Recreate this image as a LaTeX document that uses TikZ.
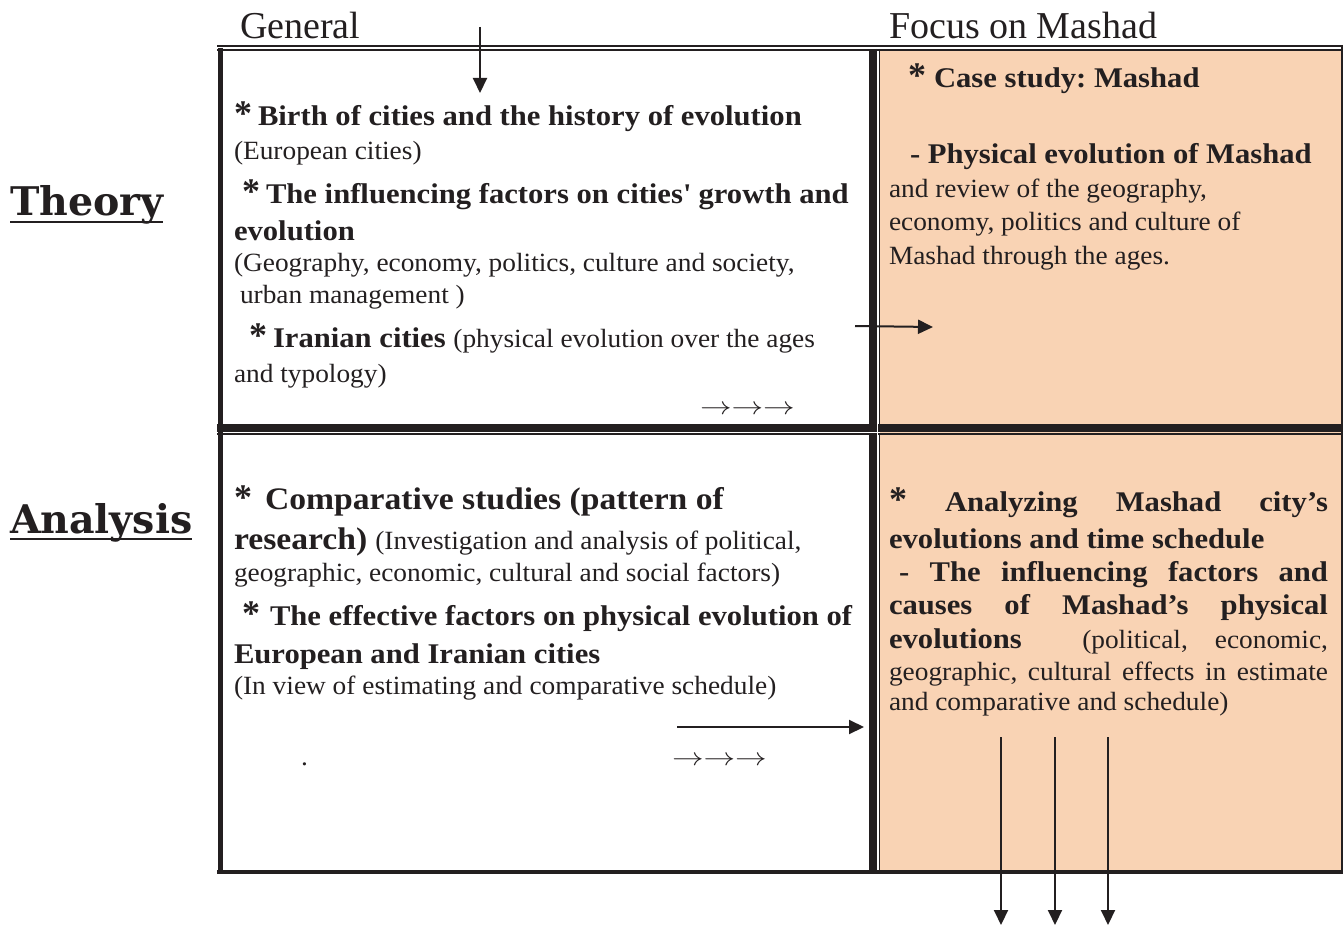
\documentclass[tikz,border=0pt]{standalone}
\usepackage{fontspec}
\setmainfont{Liberation Serif}
\newfontfamily\labfont{DejaVu Serif}
\newfontfamily\bodyr[FakeStretch=1.04]{Liberation Serif}
\newfontfamily\bodyb[BoldFeatures={FakeStretch=1.075}]{Liberation Serif}
\usetikzlibrary{arrows.meta}
\definecolor{peach}{HTML}{F9D3B4}
\definecolor{ink}{HTML}{231F20}
\newcommand\myreg{\bodyr\fontsize{26.3}{30}\selectfont\mdseries}
\newcommand\mybold{\bodyb\fontsize{28.5}{30}\selectfont\bfseries}
\newcommand\mybig{\bodyb\fontsize{31.3}{33}\selectfont\bfseries}
\newcommand\myast{{\setmainfont{Liberation Serif}\fontsize{36}{36}\selectfont\bfseries *}}
\newcommand\myarrows{\scalebox{1.27}[1]{\fontsize{31}{31}\selectfont$\rightarrow\rightarrow\rightarrow$}}
\frenchspacing
\begin{document}
\frenchspacing
\begin{tikzpicture}[x=1pt,y=-1pt,
  tl/.style={anchor=base west,inner sep=0pt,outer sep=0pt,text=ink},
  hd/.style={tl,font=\fontsize{38}{40}\selectfont},
  lab/.style={tl,font=\labfont\bfseries\fontsize{39.5}{40}\selectfont},
  conn/.style={draw=ink,line width=2pt,-{Triangle[length=15pt,width=14pt]}},
  bord/.style={draw=ink}]
\useasboundingbox (0,0) rectangle (1343,925);
% cells
\fill[peach] (880,50) rectangle (1341,870);
% borders
\draw[bord,line width=2pt] (217,46) -- (1343,46);
\draw[bord,line width=1.6pt] (217,50) -- (1343,50);
\draw[bord,line width=5pt] (220,48) -- (220,874);
\draw[bord,line width=8pt] (873,49) -- (873,872);
\draw[bord,line width=1.6pt] (879.6,49) -- (879.6,872);
\draw[bord,line width=8pt] (217,427.5) -- (1343,427.5);
\draw[bord,line width=1.6pt] (217,434) -- (1343,434);
\draw[bord,line width=2.4pt] (1341.8,45) -- (1341.8,873);
\draw[bord,line width=4pt] (217,871.5) -- (1343,871.5);
\draw[white,line width=1.2pt] (877.8,423) -- (877.8,435);
\draw[white,line width=1.2pt] (868,432.4) -- (880,432.4);
% headers
\node[hd] (gen) at (240,38.5) {General};
\node[hd] (foc) at (889,38.5) {Focus on Mashad};
\node[lab] (th) at (10,216) {Theory};
\draw[ink,line width=2.6pt] ([yshift=-6pt]th.base west) -- ([yshift=-6pt]th.base east);
\node[lab] (an) at (10,533) {Analysis};
\draw[ink,line width=2.6pt] ([yshift=-6pt]an.base west) -- ([yshift=-6pt]an.base east);
% top-left cell
\node[tl] (a1) at (234,126) {\myast\hspace{6pt}\mybold Birth of cities and the history of evolution};
\node[tl] (a2) at (234,160) {\myreg (European cities)};
\node[tl] (a3) at (242,204) {\myast\hspace{6pt}\mybold The influencing factors on cities\textquotesingle{} growth and};
\node[tl] (a4) at (234,241) {\mybold evolution};
\node[tl] (a5) at (234,272) {\myreg (Geography, economy, politics, culture and society,};
\node[tl] (a6) at (240,303) {\myreg urban management )};
\node[tl] (a7) at (249,347) {\myast\hspace{6pt}\mybold Iranian cities \myreg(physical evolution over the ages};
\node[tl] (a8) at (234,382) {\myreg and typology)};
\node[tl] (a9) at (700,414) {\myarrows};
% top-right cell
\node[tl] (r1) at (908,88) {\myast\hspace{8pt}\mybold Case study: Mashad};
\node[tl] (r2) at (910,164) {\mybold - Physical evolution of Mashad};
\node[tl] (r3) at (889,198) {\myreg and review of the geography,};
\node[tl] (r4) at (889,231) {\myreg economy, politics and culture of};
\node[tl] (r5) at (889,265) {\myreg Mashad through the ages.};
% bottom-left cell
\node[tl] (b1) at (234,509) {\myast\hspace{13pt}\mybig Comparative studies (pattern of};
\node[tl] (b2) at (234,549) {\mybig research)\hspace{8pt}\myreg(Investigation and analysis of political,};
\node[tl] (b3) at (234,581) {\myreg geographic, economic, cultural and social factors)};
\node[tl] (b4) at (242,625) {\myast\hspace{10pt}\mybold The effective factors on physical evolution of};
\node[tl] (b5) at (234,663) {\mybold European and Iranian cities};
\node[tl] (b6) at (234,694) {\myreg (In view of estimating and comparative schedule)};
\node[tl] (b7) at (301,765) {\myreg .};
\node[tl] (b8) at (672,765) {\myarrows};
% bottom-right cell
\node[tl] (c1) at (889,511) {\makebox[439pt][s]{\mybold\myast\ Analyzing Mashad city’s}};
\node[tl] (c2) at (889,548) {\mybold evolutions and time schedule};
\node[tl] (c3) at (899,581) {\makebox[429pt][s]{\mybold - The influencing factors and}};
\node[tl] (c4) at (889,614) {\makebox[439pt][s]{\mybold causes of Mashad’s physical}};
\node[tl] (c5) at (889,648) {\makebox[439pt][s]{\mybold evolutions\ \ \myreg (political, economic,}};
\node[tl] (c6) at (889,680) {\makebox[439pt][s]{\myreg geographic, cultural effects in estimate}};
\node[tl] (c7) at (889,710) {\myreg and comparative and schedule)};
% connectors
\coordinate (p1) at (480,27);
\coordinate (p2) at (480,93);
\draw[conn] (p1) -- (p2);
\coordinate (q1) at (855,326);
\coordinate (q2) at (933,327);
\draw[conn] (q1) -- (q2);
\coordinate (s1) at (677,727);
\coordinate (s2) at (864,727);
\draw[conn] (s1) -- (s2);
\foreach \x/\n in {1001/d1,1055/d2,1108/d3}{
  \coordinate (\n a) at (\x,737);
  \coordinate (\n b) at (\x,925);
  \draw[conn] (\n a) -- (\n b);
}
\end{tikzpicture}
\end{document}
